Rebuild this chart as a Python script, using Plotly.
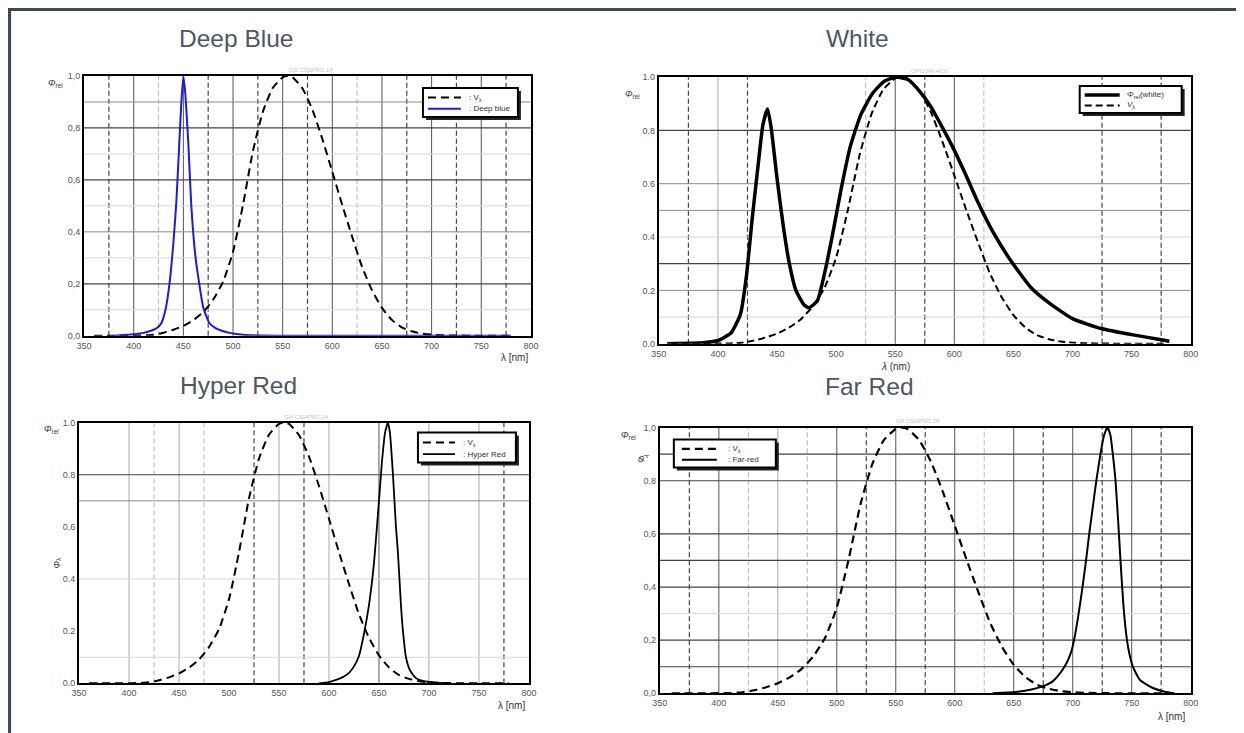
import plotly.graph_objects as go

FIG_W, FIG_H = 1244, 733
# measured mapping of page pixels onto the photographed picture
PAGE_MARGIN = 8          # default body margin of the html page
SHOT_SCALE = 0.9875
SHOT_OX, SHOT_OY = 8.0, 5.0

# ---------------- data ----------------
# photopic eye sensitivity V(lambda), shared by all four panels
VL_NM = [360, 370, 380, 390, 400, 410, 420, 430, 440, 450, 460, 470, 480, 490, 500,
         510, 520, 530, 540, 550, 555, 560, 570, 580, 590, 600, 610, 620, 630, 640,
         650, 660, 670, 680, 690, 700, 710, 720, 730, 740, 750, 760, 770, 780]
VL_VAL = [0.0, 0.0, 0.0, 0.0001, 0.0004, 0.0012, 0.004, 0.0116, 0.023, 0.038, 0.06, 0.091,
          0.139, 0.208, 0.323, 0.503, 0.71, 0.862, 0.954, 0.995, 1.0, 0.995, 0.952, 0.87,
          0.757, 0.631, 0.503, 0.381, 0.265, 0.175, 0.107, 0.061, 0.032, 0.017, 0.0082,
          0.0041, 0.0021, 0.001, 0.0005, 0.0002, 0.0001, 0.0, 0.0, 0.0]

DB_NM = [380, 390, 400, 410, 415, 420, 425, 428, 432, 436, 440, 443, 446, 448, 450, 452,
         455, 458, 462, 466, 470, 476, 482, 488, 498, 510, 530, 560, 780]
DB_VAL = [0.0, 0.003, 0.006, 0.011, 0.016, 0.023, 0.035, 0.05, 0.1, 0.2, 0.36, 0.52, 0.75,
          0.9, 1.0, 0.93, 0.74, 0.5, 0.31, 0.2, 0.11, 0.05, 0.03, 0.02, 0.01, 0.004, 0.001,
          0.0, 0.0]

WH_NM = [357, 375, 388, 400, 411, 419, 424, 429, 434, 438, 442, 445, 450, 455, 460, 466,
         473, 477, 484, 490, 497, 504, 512, 521, 531, 541, 551, 561, 570, 580, 590, 600,
         609, 619, 632, 648, 665, 681, 700, 725, 750, 775, 782]
WH_VAL = [0.0, 0.002, 0.004, 0.012, 0.04, 0.11, 0.25, 0.47, 0.67, 0.82, 0.88, 0.81, 0.62,
          0.45, 0.31, 0.2, 0.145, 0.135, 0.16, 0.26, 0.41, 0.575, 0.74, 0.86, 0.94, 0.985,
          1.0, 0.99, 0.95, 0.89, 0.81, 0.725, 0.64, 0.54, 0.425, 0.31, 0.21, 0.15, 0.094,
          0.056, 0.034, 0.015, 0.009]

HR_NM = [590, 600, 610, 615, 620, 625, 630, 635, 640, 645, 650, 653, 656, 659, 661, 664,
         667, 669, 672, 674, 677, 681, 687, 695, 705, 720]
HR_VAL = [0.0, 0.005, 0.017, 0.026, 0.04, 0.065, 0.105, 0.19, 0.3, 0.46, 0.7, 0.85, 0.96,
          1.0, 0.96, 0.8, 0.6, 0.5, 0.3, 0.2, 0.1, 0.05, 0.02, 0.008, 0.003, 0.0]

FR_NM = [632, 645, 655, 665, 675, 683, 690, 693, 696, 699, 702, 705, 708, 711, 714, 717,
         720, 723.5, 726.5, 729.5, 732, 734, 736.3, 738.5, 740.5, 743, 746, 748, 751, 757,
         768, 778, 786]
FR_VAL = [0.0, 0.003, 0.007, 0.014, 0.027, 0.045, 0.08, 0.1, 0.125, 0.16, 0.22, 0.3, 0.39,
          0.49, 0.6, 0.7, 0.8, 0.9, 0.97, 1.0, 0.97, 0.9, 0.8, 0.65, 0.5, 0.33, 0.2, 0.15,
          0.1, 0.05, 0.02, 0.006, 0.0]

X_TICKS = [350, 400, 450, 500, 550, 600, 650, 700, 750, 800]
X_LABELS = ["350", "400", "450", "500", "550", "600", "650", "700", "750", "800"]
Y_TICKS = [0.0, 0.2, 0.4, 0.6, 0.8, 1.0]
Y_LABELS_COMMA = ["0,0", "0,2", "0,4", "0,6", "0,8", "1,0"]
Y_LABELS_DOT = ["0.0", "0.2", "0.4", "0.6", "0.8", "1.0"]

TITLES = ["Deep Blue", "White", "Hyper Red", "Far Red"]
CODES = ["GD CSSPM1.14", "OPCUW.HCS", "GH CSHPM1.24", "GF CSHPM1.28"]
LEGEND_NAMES = [[": V<sub>λ</sub>", ": Deep blue"],
                ["<i>Φ</i><sub>rel</sub>(white)", "<i>V</i><sub>λ</sub>"],
                [": V<sub>λ</sub>", ": Hyper Red"],
                [": V<sub>λ</sub>", ": Far-red"]]

# grid lines per panel: vertical (nm) and horizontal (rel) values grouped by style
GRID_V = [
    {"dark": [400, 450, 500, 550, 600, 650, 700, 750], "dash": [375, 475, 525, 575, 675, 725, 775],
     "dashlight": [425, 625], "light": []},
    {"dark": [550, 600], "dash": [375, 425, 575, 725, 775], "dashlight": [525, 625], "light": [400]},
    {"dark": [650], "dash": [525, 575, 775], "dashlight": [425, 475],
     "light": [400, 450, 550, 600, 700, 750]},
    {"dark": [400, 500, 550, 600, 650, 700, 750], "dash": [375, 525, 575, 675, 725, 775],
     "dashlight": [425, 475, 625], "light": [450]},
]
GRID_H = [
    {"dark": [0.2, 0.6, 0.8], "mid": [0.4, 0.9], "light": [0.1, 0.3, 0.5, 0.7]},
    {"dark": [0.8, 0.3], "mid": [0.6, 0.5, 0.2], "light": [0.1, 0.4]},
    {"dark": [0.8], "mid": [0.7], "light": [0.4, 0.1]},
    {"dark": [0.1, 0.2, 0.4, 0.5, 0.6, 0.8, 0.9], "mid": [], "light": [0.3]},
]

# ---------------- layout geometry (picture pixels) ----------------
PANELS = [  # x0, x1, y_top, y_bottom of the plotting area
    (84, 531, 76, 336),
    (659, 1191, 77, 344),
    (79, 529, 423, 684),
    (660, 1191, 428, 694),
]
TITLE_POS = [(236, 38), (858, 38), (238, 386), (870, 387)]
CODE_POS = [(311, 70), (930, 71), (307, 417), (918, 421)]
LEGEND_BOX = [(423, 88, 518, 117), (1080, 86, 1182, 113), (418, 433, 516, 463), (674, 440, 776, 468)]
LEGEND_SAMPLE = [(428, 461, 467), (1085, 1120, 1125), (423, 455, 461), (682, 717, 726)]


def px(x):
    fx = (x - SHOT_OX) / SHOT_SCALE - PAGE_MARGIN
    return fx / FIG_W


def py(y):
    fy = (y - SHOT_OY) / SHOT_SCALE - PAGE_MARGIN
    return 1 - fy / FIG_H


fig = go.Figure()

series = [
    [(VL_NM, VL_VAL, dict(color="black", width=2, dash="8px,5px")),
     (DB_NM, DB_VAL, dict(color="#1c1cd6", width=2))],
    [(WH_NM, WH_VAL, dict(color="black", width=3.5)),
     (VL_NM, VL_VAL, dict(color="black", width=2, dash="7px,4px"))],
    [(VL_NM, VL_VAL, dict(color="black", width=2, dash="8px,5px")),
     (HR_NM, HR_VAL, dict(color="black", width=1.8))],
    [(VL_NM, VL_VAL, dict(color="black", width=2.2, dash="8px,5px")),
     (FR_NM, FR_VAL, dict(color="black", width=2))],
]

shapes = []
annotations = []
layout = {}


def note(text, x, y, size, color, angle=0, xanchor="center", family="Arial"):
    annotations.append(dict(text=text, x=px(x), y=py(y), xref="paper", yref="paper",
                            showarrow=False, xanchor=xanchor, yanchor="middle",
                            textangle=angle, font=dict(family=family, size=size, color=color)))


for i in range(4):
    n = i + 1
    sx = "" if n == 1 else str(n)
    xa, ya = "x" + sx, "y" + sx
    for j, (xs, ys, line) in enumerate(series[i]):
        fig.add_trace(go.Scatter(
            x=xs, y=ys, mode="lines", line=dict(shape="spline", smoothing=0.5, **line),
            name=LEGEND_NAMES[i][j], xaxis=xa, yaxis=ya, showlegend=False,
            hoverinfo="skip"))

    x0, x1, yt, yb = PANELS[i]
    ylabels = Y_LABELS_DOT if n in (2, 3) else Y_LABELS_COMMA
    tickfont = dict(family="Arial", size=9, color="#555")
    layout["xaxis" + sx] = dict(
        domain=[px(x0), px(x1)], range=[350, 800], anchor=ya, tickmode="array",
        tickvals=X_TICKS, ticktext=X_LABELS, showgrid=False, zeroline=False,
        showline=True, mirror=True, linecolor="black", linewidth=2, ticks="",
        tickfont=tickfont, fixedrange=True)
    layout["yaxis" + sx] = dict(
        domain=[py(yb), py(yt)], range=[0, 1], anchor=xa, tickmode="array",
        tickvals=Y_TICKS, ticktext=ylabels, showgrid=False, zeroline=False,
        showline=True, mirror=True, linecolor="black", linewidth=2, ticks="",
        tickfont=tickfont, fixedrange=True)

    # grid lines
    vstyles = {"dark": dict(color="#555", width=1),
               "dash": dict(color="#444", width=1.2, dash="5px,3px"),
               "dashlight": dict(color="#b5b5b5", width=1, dash="5px,3px"),
               "light": dict(color="#a8a8a8", width=1)}
    for key, vals in GRID_V[i].items():
        for v in vals:
            shapes.append(dict(type="line", xref=xa, yref=ya + " domain", x0=v, x1=v,
                               y0=0, y1=1, line=vstyles[key], layer="below"))
    hstyles = {"dark": dict(color="#444", width=1.2),
               "mid": dict(color="#8a8a8a", width=1),
               "light": dict(color="#d8d8d8", width=1)}
    for key, vals in GRID_H[i].items():
        for v in vals:
            shapes.append(dict(type="line", xref=xa + " domain", yref=ya, x0=0, x1=1,
                               y0=v, y1=v, line=hstyles[key], layer="below"))

    # panel title and tiny chart code
    tx, ty = TITLE_POS[i]
    note(TITLES[i], tx, ty, 24.5, "#4a5866")
    cx, cy = CODE_POS[i]
    note(CODES[i], cx, cy, 6, "#c4c4c4")

    # legend box drawn by hand (with its drop shadow)
    lx0, ly0, lx1, ly1 = LEGEND_BOX[i]
    shapes.append(dict(type="rect", xref="paper", yref="paper",
                       x0=px(lx0 + 3), x1=px(lx1 + 3), y0=py(ly1 + 3), y1=py(ly0 + 3),
                       fillcolor="#222", line=dict(width=0), layer="above"))
    shapes.append(dict(type="rect", xref="paper", yref="paper",
                       x0=px(lx0), x1=px(lx1), y0=py(ly1), y1=py(ly0),
                       fillcolor="white", line=dict(color="black", width=2), layer="above"))
    sx0, sx1, tx0 = LEGEND_SAMPLE[i]
    h = ly1 - ly0
    for j, (xs, ys, line) in enumerate(series[i]):
        ry = ly0 + h * (0.33 if j == 0 else 0.72)
        shapes.append(dict(type="line", xref="paper", yref="paper", x0=px(sx0), x1=px(sx1),
                           y0=py(ry), y1=py(ry), line=line, layer="above"))
        note(LEGEND_NAMES[i][j], tx0, ry, 8, "#333", xanchor="left")

# axis titles
AX_TXT = [
    ("<i>Φ</i><sub>rel</sub>", 55, 83, 0), ("λ [nm]", 515, 358, 0),
    ("<i>Φ</i><sub>rel</sub>", 633, 94, 0), ("<i>λ</i> (nm)", 896, 367, 0),
    ("<i>Φ</i><sub>rel</sub>", 51, 430, 0), ("λ [nm]", 512, 706, 0),
    ("<i>Φ</i><sub>λ</sub>", 57, 563, -90),
    ("<i>Φ</i><sub>rel</sub>", 629, 436, 0), ("λ [nm]", 1172, 717, 0),
    ("<i>Φ</i><sub>λ</sub>", 643, 458, -60),
]
for txt, x, y, ang in AX_TXT:
    note(txt, x, y, 10 if "nm" in txt else 9, "#333", angle=ang)

# outer frame of the card (left, top and right bars)
FRAME = "#3d4a56"
for (a, b, c, d) in [(7, 11, 7, 760), (7, 1270, 7, 11), (1237, 1270, 7, 760)]:
    shapes.append(dict(type="rect", xref="paper", yref="paper", x0=px(a), x1=px(b),
                       y0=py(d), y1=py(c), fillcolor=FRAME, line=dict(width=0), layer="above"))

fig.update_layout(
    width=FIG_W, height=FIG_H, autosize=False,
    margin=dict(l=0, r=0, t=0, b=0, pad=0),
    paper_bgcolor="white", plot_bgcolor="white", showlegend=False,
    shapes=shapes, annotations=annotations, **layout)

fig.write_html("out.html")
